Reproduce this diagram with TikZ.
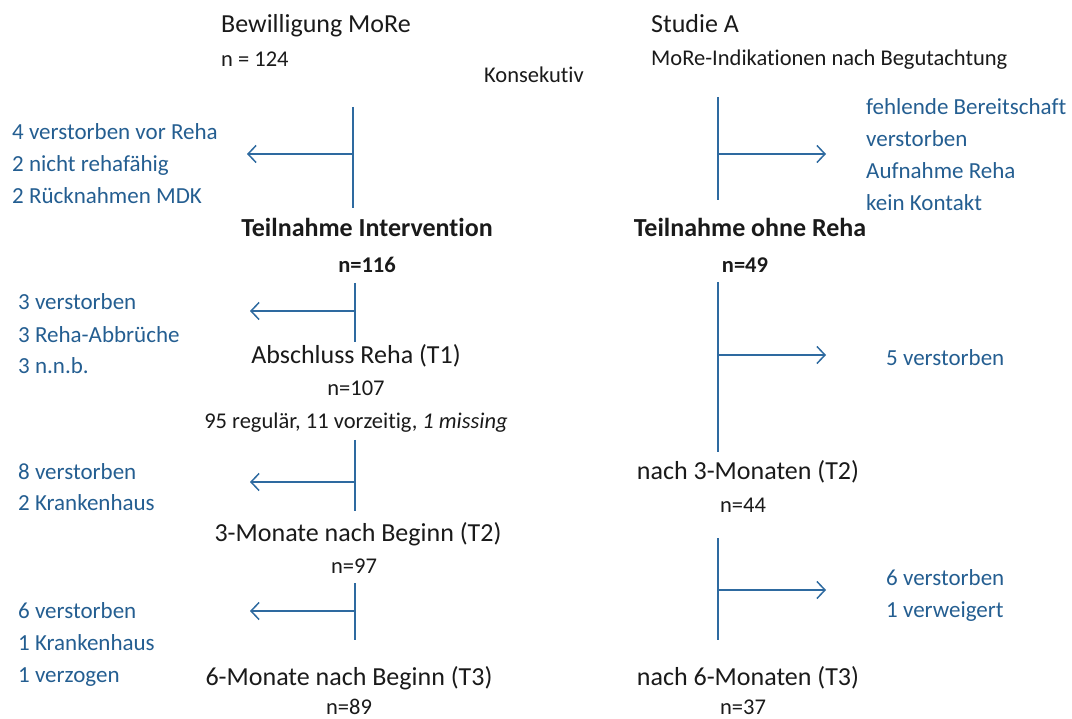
\documentclass[tikz,border=0pt]{standalone}
\usepackage{fontspec}
\setmainfont{Carlito}[Ligatures=NoCommon]
\usetikzlibrary{arrows.meta}

\definecolor{noteblue}{RGB}{36,94,145}
\definecolor{lineblue}{RGB}{46,106,160}
\definecolor{textdark}{RGB}{26,26,26}

\tikzset{
  stage/.style={font=\fontsize{26}{30}\selectfont, text=textdark, inner sep=0pt, anchor=base},
  count/.style={font=\fontsize{22.5}{26}\selectfont, text=textdark, inner sep=0pt, anchor=base},
  note/.style={font=\fontsize{23}{32}\selectfont, text=noteblue, align=left, inner sep=0pt, anchor=base west},
  flow/.style={draw=lineblue, line width=1.5pt},
  drop/.style={flow, -{Straight Barb[length=8pt,width=17pt,line width=1.5pt]}}
}

\begin{document}
\begin{tikzpicture}[x=1pt,y=-1pt]
  \useasboundingbox (0,0) rectangle (1072,719);

  % Left column: MoRe
  \node[stage, anchor=base west] (more) at (221,33) {Bewilligung MoRe};
  \node[count, anchor=base west] (moren) at (221,67) {n = 124};
  \node[count, anchor=base west] (kons) at (484,83) {Konsekutiv};

  \coordinate (l1top) at (353,107);
  \coordinate (l1bot) at (353,208);
  \coordinate (l1mid) at (353,154);
  \coordinate (l1end) at (247,154);
  \draw[flow] (l1top) -- (l1bot);
  \draw[drop] (l1mid) -- (l1end);
  \node[note] (l1note) at (12,204) {4 verstorben vor Reha\\2 nicht rehafähig\\2 Rücknahmen MDK};

  \node[stage, font=\fontsize{26}{30}\selectfont\bfseries] (inter) at (367,237) {Teilnahme Intervention};
  \node[count, font=\fontsize{22.5}{26}\selectfont\bfseries] (intern) at (367,273) {n=116};

  % T1
  \coordinate (l2top) at (355,283);
  \coordinate (l2bot) at (355,342);
  \coordinate (l2mid) at (355,311);
  \coordinate (l2end) at (250,311);
  \draw[flow] (l2top) -- (l2bot);
  \draw[drop] (l2mid) -- (l2end);
  \node[note] (l2note) at (18,374) {3 verstorben\\3 Reha-Abbrüche\\3 n.n.b.};

  \node[stage] (t1) at (356,364) {Abschluss Reha (T1)};
  \node[count] (t1n) at (356,396) {n=107};
  \node[count] (t1d) at (356,429) {95 regulär, 11 vorzeitig, \textit{1 missing}};

  % T2
  \coordinate (l3top) at (355,440);
  \coordinate (l3bot) at (355,511);
  \coordinate (l3mid) at (355,482);
  \coordinate (l3end) at (250,482);
  \draw[flow] (l3top) -- (l3bot);
  \draw[drop] (l3mid) -- (l3end);
  \node[note] (l3note) at (18,511) {8 verstorben\\2 Krankenhaus};

  \node[stage] (t2) at (358,541) {3-Monate nach Beginn (T2)};
  \node[count] (t2n) at (354,573) {n=97};

  % T3
  \coordinate (l4top) at (355,583);
  \coordinate (l4bot) at (355,640);
  \coordinate (l4mid) at (355,611);
  \coordinate (l4end) at (250,611);
  \draw[flow] (l4top) -- (l4bot);
  \draw[drop] (l4mid) -- (l4end);
  \node[note] (l4note) at (18,682) {6 verstorben\\1 Krankenhaus\\1 verzogen};

  \node[stage] (t3) at (349,685) {6-Monate nach Beginn (T3)};
  \node[count] (t3n) at (349,714) {n=89};

  % Right column: Studie A
  \node[stage, anchor=base west] (studie) at (651,33) {Studie A};
  \node[count, anchor=base west] (indik) at (651,66) {MoRe-Indikationen nach Begutachtung};

  \coordinate (r1top) at (718,97);
  \coordinate (r1bot) at (718,200);
  \coordinate (r1mid) at (718,154);
  \coordinate (r1end) at (826,154);
  \draw[flow] (r1top) -- (r1bot);
  \draw[drop] (r1mid) -- (r1end);
  \node[note] (r1note) at (866,211) {fehlende Bereitschaft\\verstorben\\Aufnahme Reha\\kein Kontakt};

  \node[stage, font=\fontsize{26}{30}\selectfont\bfseries] (ohne) at (750,237) {Teilnahme ohne Reha};
  \node[count, font=\fontsize{22.5}{26}\selectfont\bfseries] (ohnen) at (745,273) {n=49};

  % nach 3 Monaten
  \coordinate (r2top) at (718,282);
  \coordinate (r2bot) at (718,452);
  \coordinate (r2mid) at (718,355);
  \coordinate (r2end) at (826,355);
  \draw[flow] (r2top) -- (r2bot);
  \draw[drop] (r2mid) -- (r2end);
  \node[note] (r2note) at (886,366) {5 verstorben};

  \node[stage] (r2t) at (748,479) {nach 3-Monaten (T2)};
  \node[count] (r2n) at (743,512) {n=44};

  % nach 6 Monaten
  \coordinate (r3top) at (718,538);
  \coordinate (r3bot) at (718,640);
  \coordinate (r3mid) at (718,590);
  \coordinate (r3end) at (826,590);
  \draw[flow] (r3top) -- (r3bot);
  \draw[drop] (r3mid) -- (r3end);
  \node[note] (r3note) at (886,617) {6 verstorben\\1 verweigert};

  \node[stage] (r3t) at (748,685) {nach 6-Monaten (T3)};
  \node[count] (r3n) at (743,714) {n=37};
\end{tikzpicture}
\end{document}
